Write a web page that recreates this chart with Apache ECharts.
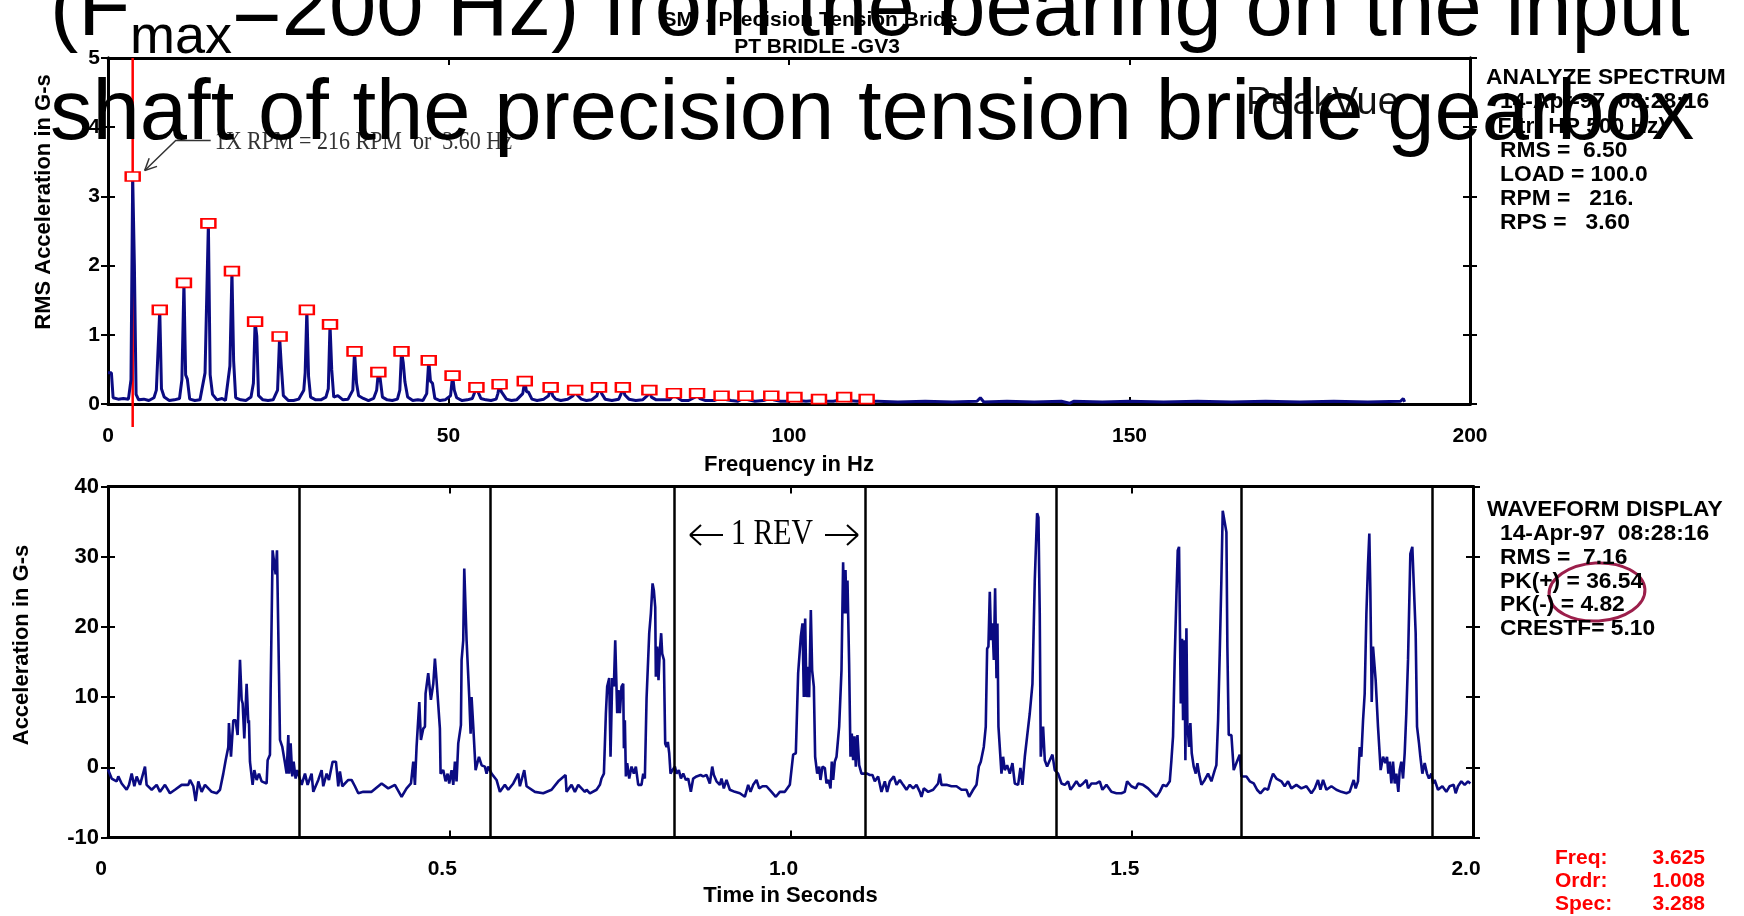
<!DOCTYPE html>
<html>
<head>
<meta charset="utf-8">
<title>PeakVue spectrum and waveform - PT Bridle GV3</title>
<script src="https://cdn.jsdelivr.net/npm/echarts/dist/echarts.min.js"></script>
<style>
  html, body { margin: 0; padding: 0; background: #fff; }
  #chart { width: 1744px; height: 916px; }
</style>
</head>
<body>
<div id="chart"></div>
<script>
// ---- Spectrum: labelled harmonic peaks (Hz, G-s RMS) ----
const harmonicHz = [3.625, 7.6, 11.15, 14.74, 18.2, 21.6, 25.2, 29.2, 32.6, 36.2, 39.7, 43.1, 47.1, 50.6, 54.1,
  57.5, 61.2, 65.0, 68.6, 72.1, 75.6, 79.5, 83.1, 86.5, 90.1, 93.6, 97.4, 100.8, 104.4, 108.1, 111.4];
const harmonicG = [3.288, 1.36, 1.75, 2.61, 1.92, 1.19, 0.975, 1.36, 1.15, 0.76, 0.46, 0.76, 0.63, 0.41, 0.24,
  0.285, 0.33, 0.24, 0.20, 0.24, 0.24, 0.20, 0.155, 0.155, 0.12, 0.12, 0.12, 0.10, 0.07, 0.10, 0.07];

// ---- Spectrum trace [Hz, G-s] ----
const spectrum = [
  [0, 0.45], [0.5, 0.45], [0.75, 0.09], [1.5, 0.07], [2.25, 0.08], [3.0, 0.07], [3.375, 0.35], [3.625, 3.288],
  [3.875, 2.0], [4.125, 0.14], [4.5, 0.06], [5.25, 0.07], [6.0, 0.05], [6.75, 0.09], [7.1, 0.2], [7.6, 1.36],
  [7.85, 0.22], [8.25, 0.1], [9.0, 0.05], [9.75, 0.06], [10.5, 0.08], [10.85, 0.35], [11.15, 1.75], [11.4, 0.42],
  [11.65, 0.36], [12.0, 0.07], [12.75, 0.05], [13.5, 0.06], [14.25, 0.45], [14.74, 2.61], [15.0, 0.42],
  [15.35, 0.14], [16.0, 0.06], [16.75, 0.08], [17.25, 0.05], [17.9, 0.55], [18.2, 1.92], [18.45, 0.62],
  [18.75, 0.09], [19.5, 0.06], [20.25, 0.05], [21.0, 0.1], [21.35, 0.3], [21.6, 1.19], [21.85, 0.98], [22.1, 0.12],
  [22.75, 0.06], [23.5, 0.05], [24.25, 0.06], [24.9, 0.2], [25.2, 0.975], [25.45, 0.55], [25.75, 0.12], [26.5, 0.05],
  [27.25, 0.05], [28.0, 0.07], [28.75, 0.2], [28.95, 0.45], [29.2, 1.36], [29.45, 0.4], [29.75, 0.1], [30.5, 0.06],
  [31.25, 0.06], [32.0, 0.1], [32.35, 0.22], [32.6, 1.15], [32.85, 0.5], [33.15, 0.1], [33.75, 0.12], [34.5, 0.06],
  [35.25, 0.07], [35.95, 0.2], [36.2, 0.76], [36.5, 0.3], [36.8, 0.12], [37.5, 0.08], [38.25, 0.05], [39.0, 0.08],
  [39.45, 0.2], [39.7, 0.46], [39.95, 0.38], [40.3, 0.1], [41.0, 0.06], [41.75, 0.05], [42.5, 0.07], [42.85, 0.2],
  [43.1, 0.76], [43.35, 0.6], [43.6, 0.32], [44.0, 0.1], [44.75, 0.05], [45.5, 0.06], [46.25, 0.05], [46.8, 0.15],
  [47.1, 0.63], [47.35, 0.33], [47.65, 0.3], [48.0, 0.08], [48.75, 0.05], [49.5, 0.06], [50.3, 0.12], [50.6, 0.41],
  [50.85, 0.2], [51.2, 0.09], [52.0, 0.05], [52.75, 0.06], [53.5, 0.08], [53.85, 0.17], [54.1, 0.24], [54.4, 0.16],
  [54.75, 0.08], [55.5, 0.06], [56.25, 0.05], [57.0, 0.07], [57.25, 0.15], [57.5, 0.285], [57.75, 0.18], [58.0, 0.16],
  [58.5, 0.07], [59.25, 0.05], [60.0, 0.06], [60.9, 0.15], [61.2, 0.33], [61.45, 0.18], [61.75, 0.17], [62.25, 0.07],
  [63.0, 0.05], [64.0, 0.07], [64.7, 0.12], [65.0, 0.24], [65.3, 0.12], [65.75, 0.07], [66.5, 0.05], [67.5, 0.07],
  [68.3, 0.12], [68.6, 0.2], [68.9, 0.13], [69.5, 0.07], [70.25, 0.05], [71.0, 0.06], [71.8, 0.12], [72.1, 0.24],
  [72.5, 0.15], [73.0, 0.07], [74.0, 0.05], [75.0, 0.07], [75.35, 0.15], [75.6, 0.24], [75.9, 0.13], [76.5, 0.07],
  [77.5, 0.05], [78.5, 0.06], [79.2, 0.12], [79.5, 0.2], [79.8, 0.1], [80.5, 0.06], [81.5, 0.06], [82.5, 0.06],
  [82.8, 0.1], [83.1, 0.155], [83.5, 0.1], [84.25, 0.05], [85.25, 0.05], [86.2, 0.1], [86.5, 0.155], [86.9, 0.08],
  [87.75, 0.05], [89.0, 0.05], [89.8, 0.08], [90.1, 0.12], [90.5, 0.07], [91.5, 0.05], [92.5, 0.04], [93.3, 0.08],
  [93.6, 0.12], [94.0, 0.06], [95.0, 0.04], [96.25, 0.05], [97.1, 0.08], [97.4, 0.12], [97.7, 0.06], [98.75, 0.04],
  [100.0, 0.04], [100.5, 0.07], [100.8, 0.1], [101.1, 0.05], [102.5, 0.04], [104.0, 0.05], [104.4, 0.07],
  [104.8, 0.04], [106.5, 0.04], [107.75, 0.06], [108.1, 0.1], [108.4, 0.05], [110.0, 0.04], [111.1, 0.05],
  [111.4, 0.07], [111.7, 0.04], [113.0, 0.04], [116.0, 0.03], [120.0, 0.04], [124.0, 0.03], [127.6, 0.04],
  [128.1, 0.09], [128.6, 0.03], [132.0, 0.04], [136.0, 0.03], [140.0, 0.04], [141.2, 0.01], [141.8, 0.04],
  [146.0, 0.03], [150.0, 0.04], [155.0, 0.03], [160.0, 0.04], [165.0, 0.03], [170.0, 0.04], [175.0, 0.03],
  [180.0, 0.04], [185.0, 0.03], [189.8, 0.04], [190.2, 0.08], [190.4, 0.03]
];

// ---- Waveform trace [seconds, G-s] ----
const waveform = [
  [0.0000, -0.3], [0.0054, -1.6], [0.0127, -2.0], [0.0151, -1.3], [0.0200, -2.3], [0.0273, -3.2], [0.0308, -2.5],
  [0.0347, -0.9], [0.0386, -2.7], [0.0420, -1.3], [0.0469, -2.5], [0.0542, 0.1], [0.0566, -2.5], [0.0640, -3.2],
  [0.0713, -2.5], [0.0762, -3.5], [0.0835, -2.5], [0.0908, -3.7], [0.0981, -3.2], [0.1079, -2.5], [0.1177, -2.5],
  [0.1201, -1.8], [0.1250, -2.7], [0.1284, -4.82], [0.1323, -2.0], [0.1372, -3.5], [0.1421, -2.5], [0.1519, -3.5],
  [0.1592, -3.7], [0.1641, -3.2], [0.1689, -0.9], [0.1724, 1.0], [0.1763, 2.9], [0.1772, 6.3], [0.1802, 1.5],
  [0.1836, 6.7], [0.1870, 6.7], [0.1899, 4.6], [0.1934, 15.3], [0.1958, 9.6], [0.1973, 9.1], [0.1997, 4.1],
  [0.2031, 11.9], [0.2056, 6.3], [0.2065, 6.7], [0.2080, 0.8], [0.2104, 0.8], [0.2119, -2.5], [0.2144, -0.4],
  [0.2178, -1.8], [0.2212, -0.9], [0.2251, -2.0], [0.2324, -2.3], [0.2339, 1.0], [0.2373, 1.8], [0.2383, 11.0],
  [0.2412, 30.9], [0.2456, 27.5], [0.2476, 30.9], [0.2505, 13.4], [0.2520, 3.9], [0.2554, 2.9], [0.2593, 0.6],
  [0.2617, -0.9], [0.2642, 4.6], [0.2656, -0.9], [0.2676, 3.4], [0.2700, -1.3], [0.2720, 0.8], [0.2749, -1.6],
  [0.2773, -0.4],
  [0.2788, -0.9], [0.2837, -2.5], [0.2886, -0.9], [0.2925, -2.5], [0.2983, -0.9], [0.3008, -3.5], [0.3081, -1.8],
  [0.3130, -0.4], [0.3154, -2.7], [0.3203, -0.9], [0.3237, -1.8], [0.3291, 0.8], [0.3340, 0.8], [0.3374, -2.7],
  [0.3398, -0.6], [0.3433, -2.7], [0.3521, -1.8], [0.3569, -1.8], [0.3618, -2.7], [0.3667, -3.7], [0.3740, -3.5],
  [0.3862, -3.5], [0.4009, -2.3], [0.4106, -3.0], [0.4204, -2.5], [0.4302, -4.2], [0.4375, -3.0], [0.4439, -2.3],
  [0.4473, 0.8], [0.4497, -2.5], [0.4521, 2.9], [0.4546, 2.9], [0.4561, 9.3], [0.4585, 3.9], [0.4619, 5.5],
  [0.4644, 5.8], [0.4653, 10.5], [0.4692, 13.4], [0.4731, 9.6], [0.4766, 11.9], [0.4790, 15.5], [0.4814, 12.4],
  [0.4863, 5.5], [0.4873, -0.9], [0.4912, -0.4], [0.4946, -2.0], [0.4976, -0.9], [0.5000, -2.3], [0.5034, -0.4],
  [0.5059, -2.5], [0.5083, 0.8], [0.5107, -2.0], [0.5132, 3.4], [0.5171, 6.0], [0.5181, 15.3], [0.5205, 18.1],
  [0.5220, 28.3], [0.5254, 18.1], [0.5293, 10.0], [0.5313, 4.8], [0.5327, 10.0], [0.5352, 5.8], [0.5386, -0.4],
  [0.5435, 1.5], [0.5474, 0.3], [0.5522, 0.1], [0.5547, -0.9], [0.5571, 0.1],
  [0.5620, -0.9], [0.5693, -1.8], [0.5742, -3.5], [0.5815, -2.5], [0.5864, -3.2], [0.5938, -2.3], [0.6011, -0.9],
  [0.6035, -2.7], [0.6099, -0.4], [0.6133, -2.7], [0.6255, -3.5], [0.6377, -3.7], [0.6499, -3.2], [0.6597, -2.0],
  [0.6704, -1.1], [0.6719, -3.5], [0.6792, -2.5], [0.6841, -3.5], [0.6890, -2.5], [0.6987, -3.5],
  [0.7012, -3.2], [0.7061, -3.7], [0.7158, -3.2], [0.7207, -2.5], [0.7231, -1.6], [0.7266, -0.9], [0.7295, 7.7],
  [0.7314, 11.5], [0.7344, 12.7], [0.7363, 1.5], [0.7388, 12.7], [0.7412, 11.5], [0.7432, 18.1], [0.7451, 18.1],
  [0.7461, 7.7], [0.7480, 11.0], [0.7500, 7.7], [0.7524, 11.5], [0.7549, 11.9], [0.7559, 2.7], [0.7573, 6.7],
  [0.7588, -1.3], [0.7607, 0.6], [0.7637, -1.6], [0.7671, 0.1], [0.7705, -0.9], [0.7734, 0.1], [0.7769, -2.5],
  [0.7817, -2.5], [0.7842, -0.9], [0.7866, -1.6], [0.7891, 9.8], [0.7915, 9.8], [0.7930, 19.1], [0.7954, 21.9],
  [0.7979, 26.2], [0.7998, 25.2], [0.8018, 22.8], [0.8027, 12.9], [0.8047, 17.2], [0.8066, 12.4], [0.8086, 16.7],
  [0.8105, 19.1], [0.8120, 16.2], [0.8145, 15.3], [0.8164, 3.4], [0.8184, 2.9], [0.8203, 3.6], [0.8223, 2.0],
  [0.8242, -0.9], [0.8271, -0.4], [0.8306, 0.1], [0.8330, -0.9],
  [0.8364, -0.4], [0.8394, -1.6], [0.8428, -0.9], [0.8467, -1.8], [0.8501, -1.6], [0.8540, -3.5], [0.8574, -1.6],
  [0.8623, -1.3], [0.8682, -1.1], [0.8721, -1.3], [0.8770, -1.1], [0.8818, -2.3], [0.8853, 0.1], [0.8877, -1.1],
  [0.8916, -2.0], [0.8965, -2.5], [0.8989, -1.6], [0.9023, -3.0], [0.9062, -1.8], [0.9111, -3.2], [0.9185, -3.5],
  [0.9258, -3.7], [0.9331, -4.2], [0.9380, -2.5], [0.9414, -3.5], [0.9453, -2.5], [0.9502, -1.8], [0.9541, -3.0],
  [0.9590, -2.7], [0.9648, -2.7], [0.9722, -3.5], [0.9785, -4.2], [0.9844, -3.5], [0.9917, -3.5], [0.9990, -2.5],
  [1.0039, 1.8], [1.0078, 2.0], [1.0112, 13.4], [1.0137, 13.4], [1.0151, 18.6], [1.0176, 20.5], [1.0195, 10.0],
  [1.0215, 21.2], [1.0234, 10.0], [1.0254, 14.3], [1.0273, 10.0], [1.0298, 22.4], [1.0317, 13.8], [1.0342, 11.5],
  [1.0361, 1.5], [1.0391, -0.9], [1.0420, 0.1], [1.0439, -1.8], [1.0469, 0.1], [1.0503, -0.1], [1.0527, -2.3],
  [1.0557, -1.8], [1.0586, -3.0], [1.0605, 0.8], [1.0625, -1.8], [1.0649, 0.8], [1.0674, 1.5], [1.0713, 5.8],
  [1.0747, 13.8], [1.0771, 29.2], [1.0786, 21.9], [1.0806, 28.1], [1.0820, 21.9], [1.0835, 26.6], [1.0859, 14.8],
  [1.0879, 1.5], [1.0898, 4.8], [1.0918, 1.0], [1.0938, 4.4], [1.0957, 0.1], [1.0981, 4.6], [1.1006, 0.3],
  [1.1040, -0.9], [1.1074, -0.9], [1.1123, -0.9],
  [1.1162, -1.1], [1.1201, -1.1], [1.1235, -2.0], [1.1284, -1.3], [1.1333, -3.5], [1.1382, -2.0], [1.1416, -3.5],
  [1.1455, -2.0], [1.1514, -1.3], [1.1553, -2.5], [1.1602, -1.8], [1.1650, -2.5], [1.1699, -3.2], [1.1748, -2.5],
  [1.1797, -3.0], [1.1846, -2.5], [1.1895, -3.5], [1.1919, -4.2], [1.1953, -3.0], [1.2017, -3.5], [1.2090, -3.2],
  [1.2163, -2.3], [1.2188, -0.9], [1.2212, -2.5], [1.2285, -2.5], [1.2358, -2.7], [1.2432, -2.7], [1.2505, -3.2],
  [1.2578, -3.2], [1.2617, -4.2], [1.2676, -3.2], [1.2725, -2.5], [1.2759, 0.1], [1.2788, 0.8], [1.2813, 0.8],
  [1.2832, 2.9], [1.2861, 5.8], [1.2881, 16.9], [1.2900, 17.2], [1.2920, 25.0], [1.2939, 18.1], [1.2959, 20.5],
  [1.2979, 15.3], [1.2998, 25.5], [1.3018, 12.7], [1.3032, 20.5], [1.3047, 5.8], [1.3066, 5.8], [1.3091, -0.9],
  [1.3115, 1.5], [1.3140, -0.4], [1.3174, 0.3], [1.3213, -0.9], [1.3252, 0.6], [1.3286, -2.3], [1.3335, -2.5],
  [1.3369, -0.1], [1.3398, -2.5], [1.3433, 1.5], [1.3467, 4.4], [1.3506, 7.7], [1.3545, 11.9], [1.3579, 26.6],
  [1.3613, 36.2], [1.3633, 35.6], [1.3652, 21.9], [1.3667, 1.5], [1.3701, 5.8], [1.3726, 1.0], [1.3760, 0.1],
  [1.3799, 1.0], [1.3838, 1.8], [1.3872, -0.4], [1.3921, -0.9],
  [1.3945, -0.9], [1.3970, -2.3], [1.4019, -2.5], [1.4067, -2.0], [1.4102, -3.2], [1.4141, -2.7], [1.4189, -2.0],
  [1.4238, -2.7], [1.4287, -2.3], [1.4336, -1.8], [1.4360, -3.0], [1.4409, -2.3], [1.4482, -2.3], [1.4531, -2.0],
  [1.4570, -3.2], [1.4629, -2.5], [1.4702, -3.5], [1.4775, -3.7], [1.4849, -3.7], [1.4897, -3.5], [1.4932, -2.0],
  [1.4995, -2.7], [1.5059, -3.0], [1.5093, -2.3], [1.5166, -2.5], [1.5239, -3.0], [1.5288, -3.5], [1.5361, -4.2],
  [1.5410, -3.5], [1.5459, -2.5], [1.5508, -2.7], [1.5557, -2.0], [1.5581, 1.0], [1.5605, 4.4], [1.5630, 15.7],
  [1.5654, 24.3], [1.5674, 30.9], [1.5693, 31.4], [1.5703, 31.6], [1.5718, 9.1], [1.5737, 18.3], [1.5752, 6.7],
  [1.5771, 18.1], [1.5786, 1.0], [1.5801, 19.8], [1.5815, 6.3], [1.5840, 2.9], [1.5859, 6.3], [1.5879, 2.0],
  [1.5908, 0.1], [1.5938, -0.9], [1.5962, 0.6], [1.5986, -0.9], [1.6021, -2.5], [1.6069, -1.8], [1.6118, -0.9],
  [1.6167, -2.0], [1.6216, -0.4], [1.6240, 0.3], [1.6265, 6.7], [1.6289, 16.2], [1.6313, 26.6], [1.6333, 36.54],
  [1.6362, 34.9], [1.6387, 33.5], [1.6401, 17.2], [1.6421, 4.6], [1.6460, 4.6], [1.6494, -0.4], [1.6533, 0.6],
  [1.6582, 1.8], [1.6606, -1.3], [1.6631, -1.3],
  [1.6680, -1.3], [1.6729, -2.0], [1.6787, -2.3], [1.6836, -3.2], [1.6885, -3.7], [1.6948, -3.0], [1.6997, -3.2],
  [1.7031, -2.0], [1.7070, -0.9], [1.7119, -1.6], [1.7192, -2.0], [1.7241, -2.7], [1.7290, -2.0], [1.7339, -3.0],
  [1.7412, -2.5], [1.7485, -3.0], [1.7559, -2.7], [1.7632, -3.7], [1.7681, -3.0], [1.7729, -1.8], [1.7764, -3.2],
  [1.7803, -1.8], [1.7852, -3.2], [1.7925, -2.7], [1.7998, -3.2], [1.8071, -3.5], [1.8145, -3.7], [1.8193, -3.5],
  [1.8252, -1.8], [1.8281, -3.0], [1.8315, -2.0], [1.8340, 2.9], [1.8364, 1.5], [1.8389, 6.7], [1.8413, 10.5],
  [1.8438, 21.9], [1.8462, 29.0], [1.8481, 33.3], [1.8496, 25.2], [1.8516, 9.3], [1.8535, 17.2], [1.8550, 17.2],
  [1.8574, 12.4], [1.8608, 5.8], [1.8647, -0.4], [1.8682, 1.5], [1.8716, 0.6], [1.8740, 1.5], [1.8760, -0.9],
  [1.8779, 0.8], [1.8804, -2.3], [1.8828, 0.8], [1.8853, -2.3], [1.8877, -0.9], [1.8906, -3.5], [1.8926, -0.4],
  [1.8950, 0.8], [1.8975, -1.6], [1.8999, 2.0], [1.9023, 7.7], [1.9048, 15.3], [1.9082, 30.4], [1.9111, 31.4],
  [1.9136, 31.6], [1.9160, 19.1], [1.9180, 5.8], [1.9209, 3.4], [1.9229, 1.5], [1.9258, -0.9], [1.9292, 0.6],
  [1.9326, -0.9], [1.9355, -1.6], [1.9390, -0.9], [1.9414, -2.3], [1.9438, -1.8],
  [1.9487, -3.2], [1.9551, -2.7], [1.9609, -3.5], [1.9658, -2.7], [1.9717, -2.5], [1.9746, -3.7], [1.9780, -2.7],
  [1.9829, -2.0], [1.9878, -2.5], [1.9927, -2.0], [1.9961, -2.3]
];

// one shaft revolution per marker (1 / 3.60 Hz)
const revMarks = [0.2773, 0.5571, 0.8330, 1.1123, 1.3889, 1.6631, 1.9438];

// axis ranges and tick steps
const freqAxis = { min: 0, max: 200, step: 50 };
const specAxis = { min: 0, max: 5, step: 1 };
const timeAxis = { min: 0, max: 2.0, step: 0.5 };
const accelAxis = { min: -10, max: 40, step: 10 };

// side-panel readouts
const spectrumInfo = ['ANALYZE SPECTRUM', '14-Apr-97  08:28:16', '(Fltr- HP 500 Hz)', 'RMS =  6.50',
  'LOAD = 100.0', 'RPM =   216.', 'RPS =   3.60'];
const waveformInfo = ['WAVEFORM DISPLAY', '14-Apr-97  08:28:16', 'RMS =  7.16', 'PK(+) = 36.54',
  'PK(-) = 4.82', 'CRESTF= 5.10'];
const cursorLabels = ['Freq:', 'Ordr:', 'Spec:'];
const cursorValues = ['3.625', '1.008', '3.288'];

const SANS = '"Liberation Sans", Arial, Helvetica, sans-serif';
const SERIF = '"Liberation Serif", "Times New Roman", serif';
const NAVY = '#0b0b82';

const chart = echarts.init(document.getElementById('chart'), null, { renderer: 'canvas' });

const tickLbl = { color: '#000', fontFamily: SANS, fontWeight: 'bold', fontSize: 21 };
const frameLine = { show: true, onZero: false, lineStyle: { color: '#000', width: 3 } };

function xAxisDef(grid, range, position, opts) {
  return Object.assign({
    gridIndex: grid, type: 'value', min: range.min, max: range.max, interval: range.step,
    position: position, axisLine: frameLine,
    axisTick: { show: true, inside: true, length: 7, lineStyle: { color: '#000', width: 2 } },
    axisLabel: { show: false }, splitLine: { show: false }
  }, opts || {});
}
function yAxisDef(grid, range, position, inside, opts) {
  return Object.assign({
    gridIndex: grid, type: 'value', min: range.min, max: range.max, interval: range.step,
    position: position, axisLine: frameLine,
    axisTick: { show: true, inside: inside, length: 7, lineStyle: { color: '#000', width: 2 } },
    axisLabel: { show: false }, splitLine: { show: false }
  }, opts || {});
}

const option = {
  backgroundColor: '#fff',
  animation: false,
  grid: [
    { left: 108, top: 58, width: 1362, height: 346 },
    { left: 108, top: 486.5, width: 1365, height: 351 }
  ],
  xAxis: [
    xAxisDef(0, freqAxis, 'bottom', {
      axisLabel: Object.assign({ show: true, margin: 22 }, tickLbl),
      name: 'Frequency in Hz', nameLocation: 'middle', nameGap: 50,
      nameTextStyle: { color: '#000', fontFamily: SANS, fontWeight: 'bold', fontSize: 22 }
    }),
    xAxisDef(0, freqAxis, 'top'),
    xAxisDef(1, timeAxis, 'bottom', {
      axisLabel: Object.assign({
        show: true, margin: 21, padding: [0, 14, 0, 0],
        formatter: v => (v === 0 ? '0' : v.toFixed(1))
      }, tickLbl),
      name: 'Time in Seconds', nameLocation: 'middle', nameGap: 47,
      nameTextStyle: { color: '#000', fontFamily: SANS, fontWeight: 'bold', fontSize: 22 }
    }),
    xAxisDef(1, timeAxis, 'top')
  ],
  yAxis: [
    yAxisDef(0, specAxis, 'left', false, { axisLabel: Object.assign({ show: true, margin: 8 }, tickLbl) }),
    yAxisDef(0, specAxis, 'left', true),
    yAxisDef(0, specAxis, 'right', true),
    yAxisDef(0, specAxis, 'right', false),
    yAxisDef(1, accelAxis, 'left', false, {
      axisLabel: Object.assign({}, tickLbl, { show: true, margin: 9, fontSize: 22 })
    }),
    yAxisDef(1, accelAxis, 'left', true),
    yAxisDef(1, accelAxis, 'right', true),
    yAxisDef(1, accelAxis, 'right', false)
  ],
  series: [
    {
      name: 'Spectrum', type: 'line', xAxisIndex: 0, yAxisIndex: 0, data: spectrum,
      symbol: 'none', showSymbol: false, lineStyle: { color: NAVY, width: 3 }, z: 3, silent: true
    },
    {
      name: 'Peaks', type: 'scatter', xAxisIndex: 0, yAxisIndex: 0,
      data: harmonicHz.map((f, i) => [f, harmonicG[i]]),
      symbol: 'rect', symbolSize: [14, 9],
      itemStyle: { color: '#fff', borderColor: '#ff0000', borderWidth: 2, opacity: 1 }, z: 4, silent: true
    },
    {
      name: 'Waveform', type: 'line', xAxisIndex: 2, yAxisIndex: 4, data: waveform,
      symbol: 'none', showSymbol: false, lineStyle: { color: NAVY, width: 2.6 }, z: 3, silent: true,
      markLine: {
        silent: true, symbol: ['none', 'none'], label: { show: false },
        lineStyle: { color: '#000', width: 2.5, type: 'solid' },
        emphasis: { disabled: true },
        data: revMarks.map(t => ({ xAxis: t }))
      }
    }
  ]
};
chart.setOption(option);

// ---- overlay drawing: cursor, annotations, side panels, caption ----
function text(x, y, str, o) {
  o = o || {};
  return {
    type: 'text', x: x, y: y, z: o.z || 50, rotation: o.rotation || 0,
    scaleX: o.scaleX || 1, scaleY: o.scaleY || 1, silent: true,
    style: {
      text: str, fill: o.color || '#000', fontFamily: o.family || SANS,
      fontWeight: o.weight || 'normal', fontSize: o.size || 22,
      align: o.align || 'left', verticalAlign: 'middle',
      textAlign: o.align || 'left', textVerticalAlign: 'middle'
    }
  };
}
function seg(x1, y1, x2, y2, color, w, z) {
  return { type: 'line', z: z || 40, silent: true, shape: { x1, y1, x2, y2 }, style: { stroke: color, lineWidth: w } };
}

const g = [];
const spec = { xAxisIndex: 0, yAxisIndex: 0 };

// red cursor through the 1X peak
const cTop = chart.convertToPixel(spec, [harmonicHz[0], specAxis.max]);
const cBase = chart.convertToPixel(spec, [harmonicHz[0], 0]);
g.push(seg(cTop[0], cTop[1], cTop[0], cBase[1] + 23, '#ff0000', 2.5, 1));

// 1X annotation with leader arrow
const pk = chart.convertToPixel(spec, [harmonicHz[0], harmonicG[0]]);
const tip = [pk[0] + 12, pk[1] - 6];
const bend = [pk[0] + 43, pk[1] - 36];
const tail = [pk[0] + 78, pk[1] - 36];
g.push({ type: 'polyline', z: 40, silent: true, shape: { points: [tip, bend, tail] }, style: { stroke: '#333', lineWidth: 1.5, fill: null } });
const dx = bend[0] - tip[0], dy = bend[1] - tip[1], dl = Math.hypot(dx, dy);
[0.45, -0.45].forEach(a => {
  const ux = (dx * Math.cos(a) - dy * Math.sin(a)) / dl, uy = (dx * Math.sin(a) + dy * Math.cos(a)) / dl;
  g.push(seg(tip[0], tip[1], tip[0] + ux * 13, tip[1] + uy * 13, '#333', 1.5));
});
g.push(text(pk[0] + 82, pk[1] - 34, '1X RPM = 216 RPM  or  3.60 Hz', { family: SERIF, size: 25, scaleX: 0.88, color: '#333' }));

// titles
g.push(text(810, 20, 'SM  - Precision Tension Bride', { weight: 'bold', size: 21, align: 'center' }));
g.push(text(817, 47, 'PT BRIDLE -GV3', { weight: 'bold', size: 21, align: 'center' }));
g.push(text(1246, 104, 'PeakVue', { size: 38, color: '#111' }));

// rotated axis titles
g.push(text(44, 202, 'RMS Acceleration in G-s', { weight: 'bold', size: 22, align: 'center', rotation: Math.PI / 2 }));
g.push(text(22, 645, 'Acceleration in G-s', { weight: 'bold', size: 22, align: 'center', rotation: Math.PI / 2 }));

// spectrum readout panel
const specX = [1486, 1500, 1490, 1500, 1500, 1500, 1500];
spectrumInfo.forEach((s, i) => g.push(text(specX[i], 78 + i * 24.2, s, { weight: 'bold', size: 22.8 })));

// waveform readout panel
waveformInfo.forEach((s, i) => g.push(text(i === 0 ? 1487 : 1500, 510 + i * 23.8, s, { weight: 'bold', size: 22.8 })));
g.push({ type: 'ellipse', z: 45, silent: true, rotation: 0.06, x: 1597, y: 592,
  shape: { cx: 0, cy: 0, rx: 48, ry: 29 }, style: { fill: null, stroke: '#9c1f4b', lineWidth: 3 } });

// cursor readout
cursorLabels.forEach((s, i) => {
  g.push(text(1555, 858 + i * 23, s, { weight: 'bold', size: 21, color: '#ff0000' }));
  g.push(text(1705, 858 + i * 23, cursorValues[i], { weight: 'bold', size: 21, color: '#ff0000', align: 'right' }));
});

// one-revolution span label
g.push(text(772, 535, '1 REV', { family: SERIF, size: 35, scaleX: 0.85, align: 'center' }));
g.push(seg(690, 535, 723, 535, '#000', 2));
g.push(seg(690, 535, 701, 525, '#000', 2));
g.push(seg(690, 535, 701, 545, '#000', 2));
g.push(seg(825, 535, 858, 535, '#000', 2));
g.push(seg(858, 535, 847, 525, '#000', 2));
g.push(seg(858, 535, 847, 545, '#000', 2));

// caption laid over the top of the figure
g.push(text(50, 11.5, '(F', { size: 85, z: 100 }));
g.push(text(130, 38.5, 'max', { size: 54, z: 100 }));
g.push(text(232, 11.5, '=200 Hz) from the bearing on the input', { size: 85, z: 100 }));
g.push(text(50, 115.5, 'shaft of the precision tension bridle gearbox', { size: 85, z: 100 }));

chart.setOption({ graphic: { elements: g } });
</script>
</body>
</html>
